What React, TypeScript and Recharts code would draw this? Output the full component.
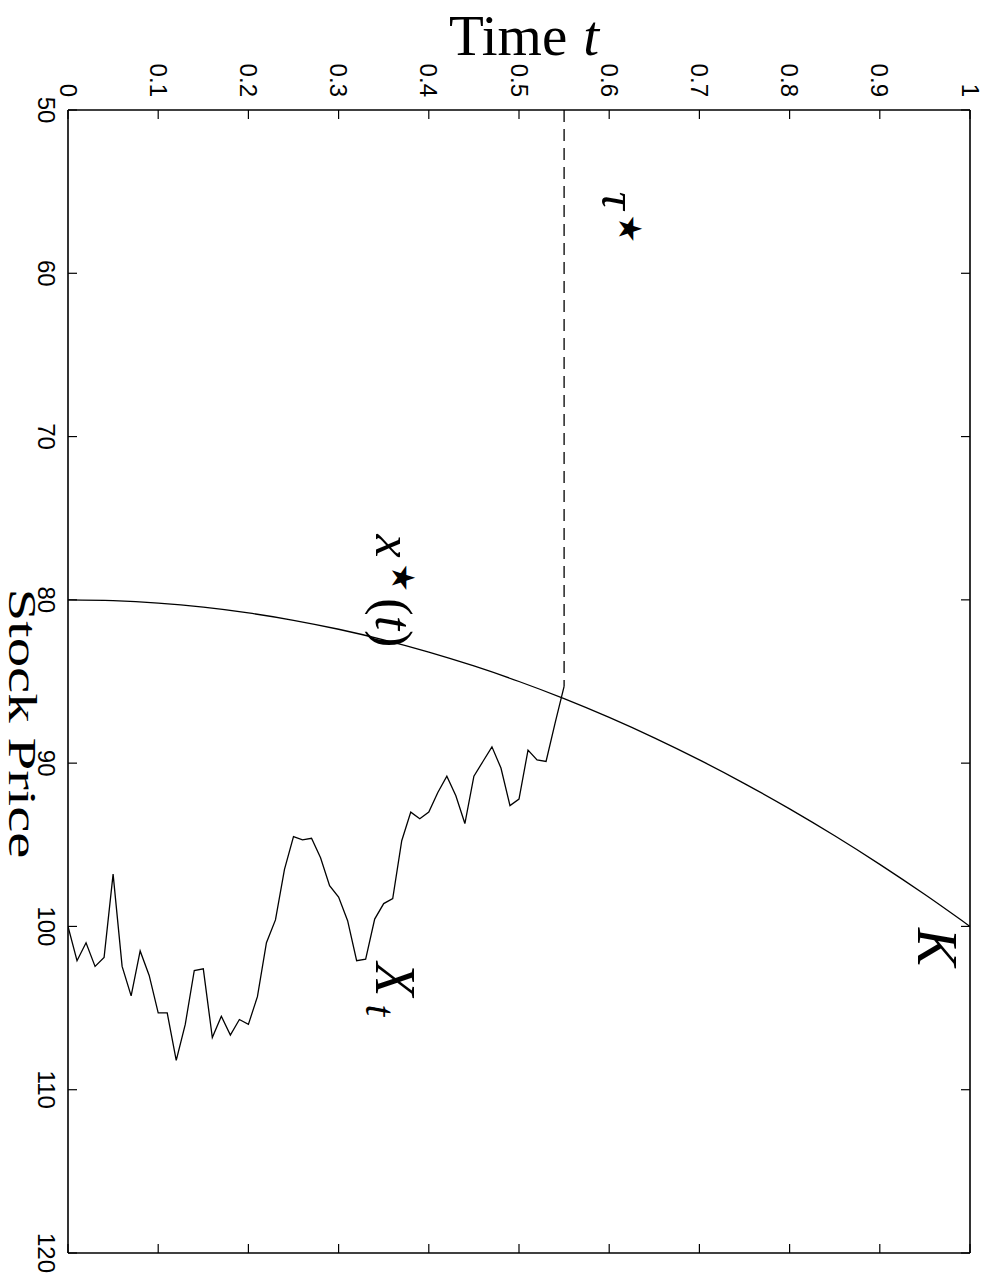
import React from 'react';
import { LineChart, Line, XAxis, YAxis, ReferenceDot } from 'recharts';

const timeTicks = [0, 0.1, 0.2, 0.3, 0.4, 0.5, 0.6, 0.7, 0.8, 0.9, 1];
const priceTicks = [50, 60, 70, 80, 90, 100, 110, 120];

const pathTimes = [
  0, 0.01, 0.02, 0.03, 0.04, 0.05, 0.06, 0.07, 0.08, 0.09,
  0.1, 0.11, 0.12, 0.13, 0.14, 0.15, 0.16, 0.17, 0.18, 0.19,
  0.2, 0.21, 0.22, 0.23, 0.24, 0.25, 0.26, 0.27, 0.28, 0.29,
  0.3, 0.31, 0.32, 0.33, 0.34, 0.35, 0.36, 0.37, 0.38, 0.39,
  0.4, 0.41, 0.42, 0.43, 0.44, 0.45, 0.46, 0.47, 0.48, 0.49,
  0.5, 0.51, 0.52, 0.53, 0.54, 0.55,
];
const pathPrices = [
  100.0, 102.1, 101.0, 102.45, 101.9, 96.8, 102.45, 104.25, 101.5, 103.0,
  105.3, 105.3, 108.2, 106.0, 102.7, 102.6, 106.8, 105.5, 106.65, 105.7,
  106.0, 104.3, 101.0, 99.6, 96.5, 94.5, 94.7, 94.6, 95.8, 97.5,
  98.2, 99.65, 102.1, 102.0, 99.55, 98.6, 98.3, 94.75, 93.0, 93.4,
  93.0, 91.8, 90.8, 92.0, 93.7, 90.8, 89.9, 89.0, 90.3, 92.6,
  92.2, 89.2, 89.8, 89.9, 87.55, 85.3,
];

const boundaryTimes = [
  0, 0.05, 0.1, 0.15, 0.2, 0.25, 0.3, 0.35, 0.4, 0.45, 0.5,
  0.55, 0.6, 0.65, 0.7, 0.75, 0.8, 0.85, 0.9, 0.95, 1,
];
const boundaryPrices = [
  80.0, 80.05, 80.2, 80.45, 80.8, 81.25, 81.8, 82.45, 83.2, 84.05, 85.0,
  86.05, 87.2, 88.45, 89.8, 91.25, 92.8, 94.45, 96.2, 98.05, 100.0,
];

const stopTimes = [0.55, 0.55];
const stopPrices = [50, 85.3];

const pathData = pathTimes.map((t, i) => ({ t, price: pathPrices[i] }));
const boundaryData = boundaryTimes.map((t, i) => ({ t, price: boundaryPrices[i] }));
const stopData = stopTimes.map((t, i) => ({ t, price: stopPrices[i] }));

const SANS = "'Liberation Sans', Arial, Helvetica, sans-serif";
const MATH = "'Liberation Serif', 'DejaVu Serif', serif";
const STAR = "'DejaVu Sans', sans-serif";

const TopTick = (props: any) => {
  const { x, y, payload } = props;
  return (
    <text x={x} y={y} transform={`rotate(90 ${x} ${y})`} textAnchor="end"
      dominantBaseline="central" fontFamily={SANS} fontSize={24} fill="#000">
      {String(payload.value)}
    </text>
  );
};

const LeftTick = (props: any) => {
  const { x, y, payload } = props;
  return (
    <text x={x} y={y} transform={`rotate(90 ${x} ${y})`} textAnchor="middle"
      dominantBaseline="central" fontFamily={SANS} fontSize={24} fill="#000">
      {String(payload.value)}
    </text>
  );
};

const NoTick = () => <g />;

const TimeTitle = (props: any) => {
  const vb = props.viewBox || { x: 68, y: 70, width: 902, height: 40 };
  const cx = vb.x + vb.width / 2 + 5;
  return (
    <text x={cx} y={vb.y - 15} textAnchor="middle" fontFamily={MATH} fontSize={57} fill="#000">
      Time<tspan dx={16} fontStyle="italic">t</tspan>
    </text>
  );
};

const PriceTitle = (props: any) => {
  const vb = props.viewBox || { x: 0, y: 110, width: 68, height: 1143 };
  const x = vb.x + 9;
  const cy = vb.y + vb.height / 2 + 42;
  return (
    <text x={x} y={cy} transform={`rotate(90 ${x} ${cy})`} textAnchor="middle"
      fontFamily={MATH} fontSize={39} fill="#000" textLength={270} lengthAdjust="spacingAndGlyphs">
      Stock Price
    </text>
  );
};

const rot = (p: any) => `rotate(90 ${p.cx} ${p.cy})`;

const TauLabel = (p: any) => (
  <text x={p.cx} y={p.cy} transform={rot(p)} fontFamily={MATH} fontSize={50} fontStyle="italic" fill="#000">
    τ<tspan dx={5} dy={-17} fontFamily={STAR} fontSize={32} fontStyle="normal">★</tspan>
  </text>
);

const BoundaryLabel = (p: any) => (
  <text x={p.cx} y={p.cy} transform={rot(p)} fontFamily={MATH} fontSize={52} fontStyle="italic" fill="#000">
    x<tspan dx={6} dy={-16} fontFamily={STAR} fontSize={32} fontStyle="normal">★</tspan>
    <tspan dx={6} dy={16} fontStyle="normal">(</tspan>
    <tspan fontStyle="italic">t</tspan>
    <tspan fontStyle="normal">)</tspan>
  </text>
);

const StrikeLabel = (p: any) => (
  <text x={p.cx} y={p.cy} transform={rot(p)} fontFamily={MATH} fontSize={57} fontStyle="italic" fill="#000">
    K
  </text>
);

const PathLabel = (p: any) => (
  <text x={p.cx} y={p.cy} transform={rot(p)} fontFamily={MATH} fontSize={56} fontStyle="italic" fill="#000">
    X<tspan dx={8} dy={10} fontSize={42}>t</tspan>
  </text>
);

const axisStroke = { stroke: '#000', strokeWidth: 1.6 };
const tickStroke = { stroke: '#000', strokeWidth: 1.2 };

export default function App() {
  return (
    <div style={{ position: 'absolute', left: 0, top: 0, background: '#fff' }}>
      <LineChart width={987} height={1278} margin={{ top: 70, right: 17, bottom: 25, left: 0 }}>
        <XAxis xAxisId="top" orientation="top" type="number" dataKey="t" domain={[0, 1]}
          allowDataOverflow ticks={timeTicks} height={40} tickSize={0} tickMargin={13}
          tickLine={false} axisLine={axisStroke} tick={<TopTick />} label={<TimeTitle />}
          interval={0} />
        <XAxis xAxisId="topIn" orientation="top" mirror type="number" dataKey="t" domain={[0, 1]}
          allowDataOverflow ticks={timeTicks} tickSize={9} axisLine={false}
          tickLine={tickStroke} tick={NoTick} interval={0} />
        <XAxis xAxisId="bottom" orientation="bottom" mirror type="number" dataKey="t" domain={[0, 1]}
          allowDataOverflow ticks={timeTicks} tickSize={9} axisLine={axisStroke}
          tickLine={tickStroke} tick={NoTick} interval={0} />
        <YAxis yAxisId="left" orientation="left" type="number" dataKey="price" domain={[50, 120]}
          allowDataOverflow reversed ticks={priceTicks} width={68} tickSize={0} tickMargin={22}
          tickLine={false} axisLine={axisStroke} tick={<LeftTick />} label={<PriceTitle />}
          interval={0} />
        <YAxis yAxisId="leftIn" orientation="left" mirror type="number" dataKey="price" domain={[50, 120]}
          allowDataOverflow reversed ticks={priceTicks} tickSize={9} axisLine={false}
          tickLine={tickStroke} tick={NoTick} interval={0} />
        <YAxis yAxisId="right" orientation="right" mirror type="number" dataKey="price" domain={[50, 120]}
          allowDataOverflow reversed ticks={priceTicks} tickSize={9} axisLine={axisStroke}
          tickLine={tickStroke} tick={NoTick} interval={0} />

        <Line xAxisId="top" yAxisId="left" data={boundaryData} dataKey="price" type="monotone"
          stroke="#000" strokeWidth={1.3} dot={false} isAnimationActive={false} />
        <Line xAxisId="top" yAxisId="left" data={pathData} dataKey="price" type="linear"
          stroke="#000" strokeWidth={1.3} dot={false} isAnimationActive={false} />
        <Line xAxisId="top" yAxisId="left" data={stopData} dataKey="price" type="linear"
          stroke="#000" strokeWidth={1.3} strokeDasharray="12 7" dot={false} isAnimationActive={false} />

        <ReferenceDot xAxisId="top" yAxisId="left" x={0.592} y={55.0} r={0} ifOverflow="visible" shape={TauLabel} />
        <ReferenceDot xAxisId="top" yAxisId="left" x={0.342} y={76.0} r={0} ifOverflow="visible" shape={BoundaryLabel} />
        <ReferenceDot xAxisId="top" yAxisId="left" x={0.942} y={100.1} r={0} ifOverflow="visible" shape={StrikeLabel} />
        <ReferenceDot xAxisId="top" yAxisId="left" x={0.342} y={102.2} r={0} ifOverflow="visible" shape={PathLabel} />
      </LineChart>
    </div>
  );
}
